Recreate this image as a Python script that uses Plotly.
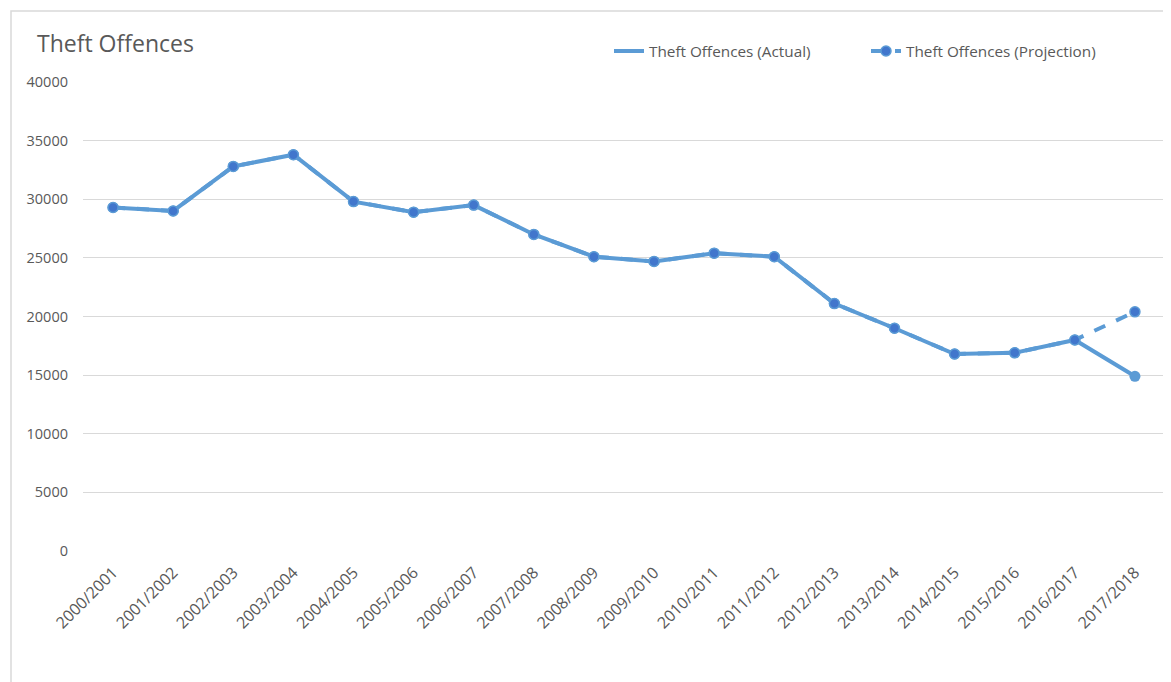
import plotly.graph_objects as go

categories = ["2000/2001", "2001/2002", "2002/2003", "2003/2004", "2004/2005", "2005/2006",
              "2006/2007", "2007/2008", "2008/2009", "2009/2010", "2010/2011", "2011/2012",
              "2012/2013", "2013/2014", "2014/2015", "2015/2016", "2016/2017", "2017/2018"]
actual = [29300, 29000, 32800, 33800, 29800, 28900, 29500, 27000, 25100, 24700, 25400, 25100,
          21100, 19000, 16800, 16900, 18000, 14900]
projection = [29300, 29000, 32800, 33800, 29800, 28900, 29500, 27000, 25100, 24700, 25400, 25100,
              21100, 19000, 16800, 16900, 18000, 20400]
y_ticks = [0, 5000, 10000, 15000, 20000, 25000, 30000, 35000, 40000]
y_tick_labels = [str(v) for v in y_ticks]

FONT = "Open Sans"
GRAY = "#595959"
LINE = "#5b9bd5"
MARK = "#4176cc"

fig = go.Figure()
fig.add_trace(go.Scatter(
    x=categories, y=actual, mode="lines", name="Theft Offences (Actual)",
    line=dict(color=LINE, width=4),
))
fig.add_trace(go.Scatter(
    x=categories, y=actual, mode="markers", showlegend=False,
    marker=dict(color=LINE, size=11),
))
fig.add_trace(go.Scatter(
    x=categories, y=projection, mode="lines+markers", name="Theft Offences (Projection)",
    line=dict(color=LINE, width=4, dash="dash"),
    marker=dict(color=MARK, size=10, line=dict(color=LINE, width=1.5)),
))

# page is rendered with an 8px body margin, so figure coords = page coords - 8
OFF = 8
W, H = 1171 - OFF, 682 - OFF
L = 83 - OFF
T = 82 - OFF
R = W - (1165 - OFF)
B = H - (551 - OFF)
pw, ph = W - L - R, H - T - B

fig.update_layout(
    width=W, height=H,
    margin=dict(l=L, r=R, t=T, b=B),
    paper_bgcolor="white", plot_bgcolor="white",
    font=dict(family=FONT, size=14, color=GRAY),
    title=dict(text="Theft Offences", font=dict(family=FONT, size=23, color=GRAY),
               xref="container", yref="container", x=(37 - OFF) / W, y=1 - (44 - OFF) / H,
               xanchor="left", yanchor="middle"),
    legend=dict(orientation="h", xref="paper", yref="paper",
                x=(609 - OFF - L) / pw, y=1 + (T - (51 - OFF)) / ph,
                xanchor="left", yanchor="middle", entrywidth=212, entrywidthmode="pixels",
                font=dict(family=FONT, size=15.3, color=GRAY), bgcolor="rgba(0,0,0,0)"),
    showlegend=True,
    xaxis=dict(type="category", range=[-0.5, len(categories) - 0.5], showgrid=False,
               showline=False, zeroline=False, ticklabelstandoff=8,
               tickangle=-45, ticks="", tickfont=dict(size=16, color=GRAY)),
    yaxis=dict(range=[0, 40000], tickvals=y_ticks, ticktext=y_tick_labels, showgrid=True,
               gridcolor="#d9d9d9", gridwidth=1, zeroline=False, showline=False, ticks="",
               ticklabelstandoff=14, tickfont=dict(size=14.5, color=GRAY)),
    shapes=[dict(type="rect", xref="paper", yref="paper",
                 x0=(11 - OFF - L) / pw, x1=(W + 20 - L) / pw,
                 y0=-(B + 20) / ph, y1=1 + (T - (11 - OFF)) / ph,
                 line=dict(color="#d9d9d9", width=1.5), fillcolor="rgba(0,0,0,0)", layer="below")],
)

fig.write_html("out.html")
